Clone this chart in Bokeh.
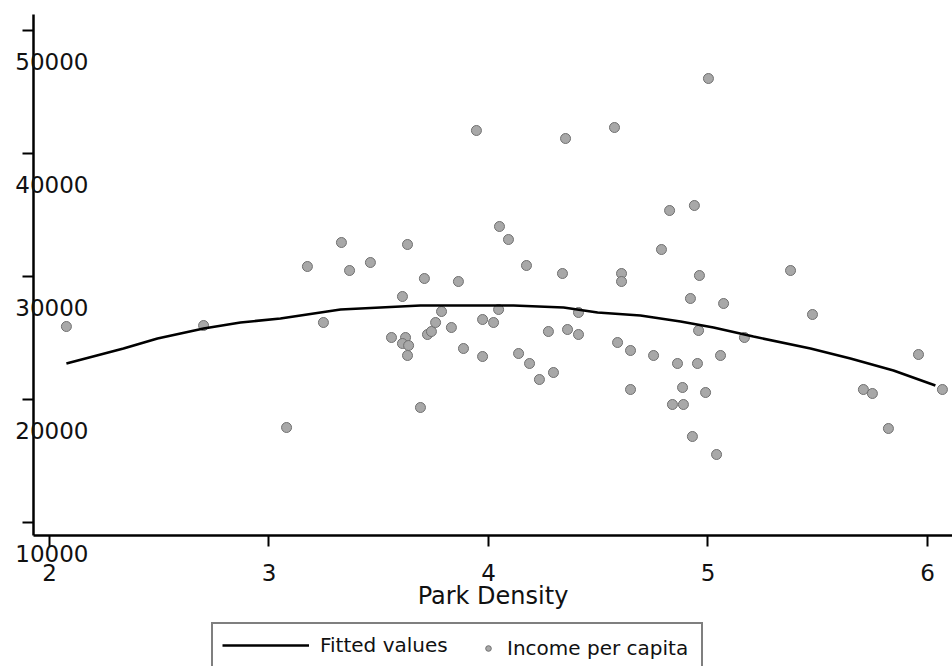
from bokeh.plotting import figure
from bokeh.models import Range1d, FixedTicker, Legend, LegendItem, Label
from bokeh.embed import file_html
from bokeh.resources import INLINE

# ---- data ----
park_density = [2.077, 2.702, 3.080, 3.175, 3.330, 3.367, 3.462, 3.248, 3.558, 3.608,
                3.622, 3.608, 3.636, 3.631, 3.631, 3.690, 3.708, 3.722, 3.740, 3.759,
                3.786, 3.831, 3.863, 3.886, 3.945, 3.973, 4.023, 4.046, 3.973, 4.050,
                4.091, 4.137, 4.173, 4.187, 4.232, 4.273, 4.296, 4.337, 4.351, 4.360,
                4.410, 4.410, 4.574, 4.588, 4.606, 4.606, 4.647, 4.647, 4.752, 4.788,
                4.825, 4.838, 4.861, 4.884, 4.888, 4.920, 4.929, 4.938, 4.952, 4.957,
                4.961, 4.989, 5.002, 5.039, 5.057, 5.071, 5.166, 5.376, 5.476, 5.708,
                5.749, 5.822, 5.959, 6.068]
income = [25931, 26013, 17713, 30814, 32767, 30488, 31139, 26257, 25036, 28373,
          25036, 24548, 24385, 23572, 32604, 19341, 29837, 25281, 25525, 26257,
          27152, 25850, 29593, 24141, 41880, 26501, 26257, 27315, 23490, 34069,
          33011, 23734, 30895, 22921, 21619, 25525, 22188, 30244, 41229, 25687,
          25281, 27071, 42124, 24629, 30244, 29593, 23979, 20805, 23572, 32197,
          35370, 19585, 22921, 20968, 19585, 28210, 16981, 35777, 22921, 25606,
          30081, 20561, 46111, 15516, 23572, 27803, 25036, 30488, 26908, 20805,
          20480, 17632, 23653, 20805]

fit_x = [2.077, 2.337, 2.492, 2.702, 2.870, 3.052, 3.326, 3.690, 4.114, 4.342,
         4.497, 4.692, 4.875, 5.025, 5.207, 5.467, 5.649, 5.845, 6.036]
fit_y = [22921, 24141, 24955, 25769, 26257, 26582, 27315, 27640, 27640, 27478,
         27071, 26827, 26338, 25850, 25118, 24141, 23328, 22351, 21131]

x_ticks = [2, 3, 4, 5, 6]
y_ticks = [10000, 20000, 30000, 40000, 50000]
y_tick_labels = ["10000", "20000", "30000", "40000", "50000"]

x_label = "Park Density"
legend_labels = ["Fitted values", "Income per capita"]

# ---- layout / styling constants ----
FONT = "DejaVu Sans"
W, H = 952, 666
X_START, X_END = 1.77677, 6.11390      # whole canvas
Y_START, Y_END = -1734, 52458
X_AXIS_AT = 1.92711                    # where the y axis stands
Y_AXIS_AT = 8925                       # where the x axis stands
Y_TOP = 51319                          # top end of the y axis line

p = figure(width=W, height=H, output_backend="svg", toolbar_location=None,
           x_range=Range1d(X_START, X_END), y_range=Range1d(Y_START, Y_END),
           min_border=0, min_border_left=0, min_border_right=0,
           min_border_top=0, min_border_bottom=0)
p.outline_line_color = None
p.grid.visible = False
p.background_fill_color = "white"
p.border_fill_color = "white"

# x axis
xa = p.xaxis[0]
xa.fixed_location = Y_AXIS_AT
xa.bounds = (X_AXIS_AT, X_END)
xa.ticker = FixedTicker(ticks=x_ticks)
xa.minor_tick_line_color = None
xa.axis_line_width = 2.5
xa.axis_line_color = "black"
xa.major_tick_line_width = 2
xa.major_tick_in = 0
xa.major_tick_out = 11
xa.major_label_standoff = 17
xa.major_label_text_font = FONT
xa.major_label_text_font_size = "23px"
xa.major_label_text_color = "#111111"
xa.axis_label = x_label
xa.axis_label_text_font = FONT
xa.axis_label_text_font_size = "24px"
xa.axis_label_text_font_style = "normal"
xa.axis_label_text_color = "#111111"
xa.axis_label_standoff = -2

# y axis (its labels sit below their ticks, as in the original)
ya = p.yaxis[0]
ya.fixed_location = X_AXIS_AT
ya.bounds = (Y_AXIS_AT, Y_TOP)
ya.ticker = FixedTicker(ticks=y_ticks)
ya.minor_tick_line_color = None
ya.axis_line_width = 2.5
ya.axis_line_color = "black"
ya.major_tick_line_width = 2
ya.major_tick_in = 0
ya.major_tick_out = 11
ya.major_label_overrides = {v: "" for v in y_ticks}
ya.major_label_standoff = 0

for v, t in zip(y_ticks, y_tick_labels):
    p.add_layout(Label(x=X_AXIS_AT, y=v, text=t, x_offset=55, y_offset=-31,
                       text_align="right", text_baseline="middle",
                       text_font=FONT, text_font_size="23px",
                       text_color="#111111"))

scat = p.scatter(park_density, income, size=10, fill_color="#a8a8a8",
                 line_color="#707070", line_width=1)
fit = p.line(fit_x, fit_y, line_color="black", line_width=2.6)

leg1 = Legend(items=[LegendItem(label=legend_labels[0], renderers=[fit])],
              location=(211, -2), orientation="horizontal",
              glyph_width=87, glyph_height=20, label_standoff=11,
              label_width=372, padding=9, margin=0, spacing=0,
              border_line_color="black", border_line_width=2,
              background_fill_color="white", background_fill_alpha=1,
              label_text_font=FONT, label_text_font_size="20px",
              label_text_color="#111111")
leg2 = Legend(items=[LegendItem(label=legend_labels[1], renderers=[scat])],
              location=(481, 6), orientation="horizontal",
              glyph_width=14, glyph_height=14, label_standoff=12,
              padding=0, margin=0, spacing=0,
              border_line_color=None, background_fill_alpha=0,
              label_text_font=FONT, label_text_font_size="20px",
              label_text_color="#111111")
p.add_layout(leg1)
p.add_layout(leg2)

open("out.html", "w").write(file_html(p, INLINE))
